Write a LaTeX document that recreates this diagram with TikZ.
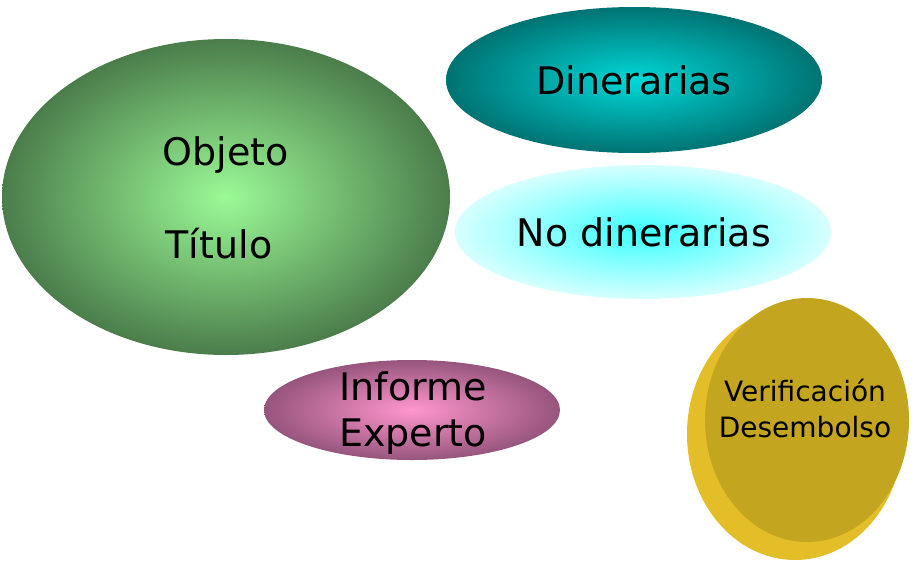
\documentclass[tikz,border=0pt]{standalone}
\usepackage{fontspec}
\setmainfont{DejaVu Sans}
\begin{document}
\begin{tikzpicture}[x=1pt,y=-1pt,
  lbl/.style={align=center, text=black}]
\useasboundingbox (0,0) rectangle (912,573);
\definecolor{gin}{RGB}{155,250,150}\definecolor{gout}{RGB}{75,125,75}
\definecolor{tin}{RGB}{0,215,215}\definecolor{tout}{RGB}{0,115,115}
\definecolor{cin}{RGB}{60,255,255}\definecolor{cout}{RGB}{215,255,255}
\definecolor{pin}{RGB}{255,150,205}\definecolor{pout}{RGB}{150,85,125}
\definecolor{yface}{RGB}{196,165,32}\definecolor{yside}{RGB}{228,190,40}
\shade[inner color=gin, outer color=gout] (226,197) ellipse [x radius=224, y radius=158];
\shade[inner color=tin, outer color=tout] (634,80) ellipse [x radius=188, y radius=73];
\shade[inner color=cin, outer color=cout] (643,232) ellipse [x radius=188, y radius=67];
\shade[inner color=pin, outer color=pout] (412,410) ellipse [x radius=148, y radius=50];
\fill[yside] (795,434) ellipse [x radius=108, y radius=126];
\fill[yface] (807,420) ellipse [x radius=102, y radius=122];
\node[lbl, font=\fontsize{38}{46}\selectfont] (obj) at (226,155) {Objeto};
\node[lbl, font=\fontsize{38}{46}\selectfont] (tit) at (219,244) {Título};
\node[lbl, font=\fontsize{38}{46}\selectfont] (din) at (634,80) {Dinerarias};
\node[lbl, font=\fontsize{38}{46}\selectfont] (nod) at (644,232) {No dinerarias};
\node[lbl, font=\fontsize{38}{46}\selectfont] (inf) at (413,413) {Informe\\Experto};
\node[lbl, font=\fontsize{28}{36}\selectfont] (ver) at (805,408) {Verificación\\Desembolso};
\end{tikzpicture}
\end{document}
